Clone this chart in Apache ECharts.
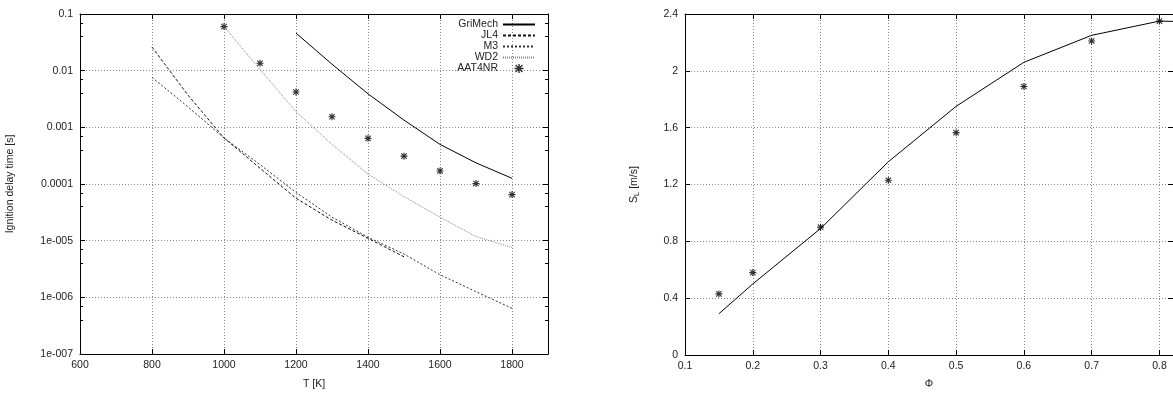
<!DOCTYPE html>
<html>
<head>
<meta charset="utf-8">
<script src="https://cdn.jsdelivr.net/npm/echarts@6/dist/echarts.min.js"></script>
<style>
  html, body { margin: 0; padding: 0; background: #fff; }
  #chart { width: 1173px; height: 395px; }
</style>
</head>
<body>
<div id="chart"></div>
<script>
// ---------- Left panel: ignition delay time vs temperature ----------
const tempGriMech = [1200, 1300, 1400, 1500, 1600, 1700, 1800];
const griMech     = [0.046, 0.013, 0.0039, 0.00134, 0.00050, 0.000236, 0.000126];

const tempJL4 = [800, 900, 1000, 1100, 1200, 1300, 1400, 1500];
const jl4     = [0.026, 0.0037, 0.00065, 0.00019, 0.000056, 0.000023, 0.000011, 0.0000052];

const tempM3 = [800, 900, 1000, 1100, 1200, 1300, 1400, 1500, 1600, 1700, 1800];
const m3     = [0.0076, 0.0023, 0.00065, 0.00022, 0.000071, 0.000026, 0.0000115, 0.0000058, 0.0000025, 0.00000126, 0.00000064];

const tempWD2 = [1000, 1100, 1200, 1300, 1400, 1500, 1600, 1700, 1800];
const wd2     = [0.06, 0.0105, 0.0019, 0.0005, 0.00015, 0.00006, 0.000026, 0.0000118, 0.0000076];

const tempAAT = [1000, 1100, 1200, 1300, 1400, 1500, 1600, 1700, 1800];
const aat4nr  = [0.060, 0.0135, 0.0042, 0.00154, 0.00064, 0.00031, 0.00017, 0.000102, 0.000065];

const lineLegendNames = ['GriMech', 'JL4', 'M3', 'WD2'];
const pointLegendName = 'AAT4NR';
const yLogTickLabels = { '-1': '0.1', '-2': '0.01', '-3': '0.001', '-4': '0.0001', '-5': '1e-005', '-6': '1e-006', '-7': '1e-007' };

// ---------- Right panel: laminar flame speed vs equivalence ratio ----------
const phiLine = [0.15, 0.2, 0.3, 0.4, 0.5, 0.6, 0.7, 0.8, 0.9];
const slLine  = [0.29, 0.50, 0.89, 1.36, 1.75, 2.06, 2.25, 2.35, 2.34];

const phiPts = [0.15, 0.2, 0.3, 0.4, 0.5, 0.6, 0.7, 0.8];
const slPts  = [0.43, 0.58, 0.90, 1.23, 1.565, 1.89, 2.21, 2.35];

// ---------- helpers ----------
const zip = (xs, ys) => xs.map((x, i) => [x, ys[i]]);
const FONT = 'Liberation Sans, Arial, sans-serif';
const TXT = '#222';
const FS = 10.5;
const STAR = 'path://M4.2,0 H5.8 V10 H4.2 Z M0,4.2 H10 V5.8 H0 Z M0.6,1.7 L1.7,0.6 L9.4,8.3 L8.3,9.4 Z M8.3,0.6 L9.4,1.7 L1.7,9.4 L0.6,8.3 Z';

const gridSplit = { show: true, lineStyle: { color: '#888', width: 1, type: [1, 2] } };
const axLine = { show: true, onZero: false, lineStyle: { color: '#000', width: 1 } };
const tickIn = { show: true, inside: true, length: 5, lineStyle: { color: '#000' } };
const lbl = (extra) => Object.assign({ color: TXT, fontFamily: FONT, fontSize: FS }, extra || {});

const legendData = lineLegendNames.map(n => ({ name: n, itemStyle: { opacity: 0 } }))
  .concat([{ name: pointLegendName }]);

const chart = echarts.init(document.getElementById('chart'), null, { renderer: 'canvas' });

const option = {
  animation: false,
  backgroundColor: '#fff',
  textStyle: { fontFamily: FONT },
  grid: [
    { left: 80, top: 14, width: 468, height: 345, containLabel: false },
    { left: 685, top: 14, width: 488.6, height: 345, containLabel: false }
  ],
  legend: {
    data: legendData,
    orient: 'vertical',
    align: 'right',
    right: 637,
    top: 19,
    padding: 0,
    itemGap: 0,
    itemWidth: 32,
    itemHeight: 9,
    textStyle: { color: TXT, fontFamily: FONT, fontSize: FS, lineHeight: 11 },
    selectedMode: false
  },
  xAxis: [
    {
      gridIndex: 0, type: 'value', position: 'bottom', min: 600, max: 1900, interval: 200,
      axisLine: axLine, axisTick: tickIn, splitLine: gridSplit,
      axisLabel: lbl({ margin: 6, showMaxLabel: false, formatter: v => (v === 1900 ? '' : String(v)) }),
      name: 'T [K]', nameLocation: 'middle', nameGap: 25,
      nameTextStyle: lbl()
    },
    {
      gridIndex: 0, type: 'value', position: 'top', min: 600, max: 1900, interval: 200,
      axisLine: axLine, axisTick: tickIn, splitLine: { show: false }, axisLabel: { show: false }
    },
    {
      gridIndex: 1, type: 'value', position: 'bottom', min: 0.1, max: 0.82, interval: 0.1,
      axisLine: axLine, axisTick: tickIn, splitLine: gridSplit,
      axisLabel: lbl({ margin: 6, showMaxLabel: false, formatter: v => (v > 0.81 ? '' : (Math.round(v * 10) / 10).toString()) }),
      name: 'Φ', nameLocation: 'middle', nameGap: 24,
      nameTextStyle: lbl()
    },
    {
      gridIndex: 1, type: 'value', position: 'top', min: 0.1, max: 0.82, interval: 0.1,
      axisLine: axLine, axisTick: tickIn, splitLine: { show: false }, axisLabel: { show: false }
    }
  ],
  yAxis: [
    {
      gridIndex: 0, type: 'log', logBase: 10, position: 'left', min: 1e-7, max: 0.1, splitNumber: 6,
      axisLine: axLine, axisTick: tickIn,
      minorTick: { show: true, splitNumber: 3, length: 3, lineStyle: { color: '#000' } },
      splitLine: gridSplit,
      axisLabel: lbl({ margin: 7, formatter: v => yLogTickLabels[String(Math.round(Math.log10(v)))] || '' }),
      name: 'Ignition delay time [s]', nameLocation: 'middle', nameGap: 64,
      nameTextStyle: lbl()
    },
    {
      gridIndex: 0, type: 'log', logBase: 10, position: 'right', min: 1e-7, max: 0.1, splitNumber: 6,
      axisLine: axLine, axisTick: tickIn,
      minorTick: { show: true, splitNumber: 3, length: 3, lineStyle: { color: '#000' } },
      splitLine: { show: false }, axisLabel: { show: false }
    },
    {
      gridIndex: 1, type: 'value', position: 'left', min: 0, max: 2.4, interval: 0.4,
      axisLine: axLine, axisTick: tickIn, splitLine: gridSplit,
      axisLabel: lbl({ margin: 7, formatter: v => (Math.round(v * 10) / 10).toString() }),
      name: '{m|S}{s|L}{m| [m/s]}', nameLocation: 'middle', nameGap: 44,
      nameTextStyle: {
        color: TXT, fontFamily: FONT, fontSize: FS,
        rich: {
          m: { color: TXT, fontFamily: FONT, fontSize: FS },
          s: { color: TXT, fontFamily: FONT, fontSize: 7.5, verticalAlign: 'bottom', padding: [6, 0, 0, 0] }
        }
      }
    },
    {
      gridIndex: 1, type: 'value', position: 'right', min: 0, max: 2.4, interval: 0.4,
      axisLine: axLine, axisTick: tickIn, splitLine: { show: false }, axisLabel: { show: false }
    }
  ],
  series: [
    {
      name: 'GriMech', type: 'line', xAxisIndex: 0, yAxisIndex: 0,
      data: zip(tempGriMech, griMech), symbol: 'none', showSymbol: false,
      lineStyle: { color: '#000', width: 1, type: 'solid' }, itemStyle: { color: '#000' }
    },
    {
      name: 'JL4', type: 'line', xAxisIndex: 0, yAxisIndex: 0,
      data: zip(tempJL4, jl4), symbol: 'none', showSymbol: false,
      lineStyle: { color: '#111', width: 1, type: [3, 2] }, itemStyle: { color: '#111' }
    },
    {
      name: 'M3', type: 'line', xAxisIndex: 0, yAxisIndex: 0,
      data: zip(tempM3, m3), symbol: 'none', showSymbol: false,
      lineStyle: { color: '#333', width: 1, type: [2, 2] }, itemStyle: { color: '#333' }
    },
    {
      name: 'WD2', type: 'line', xAxisIndex: 0, yAxisIndex: 0,
      data: zip(tempWD2, wd2), symbol: 'none', showSymbol: false,
      lineStyle: { color: '#888', width: 1, type: [1, 1] }, itemStyle: { color: '#888' }
    },
    {
      name: 'AAT4NR', type: 'scatter', xAxisIndex: 0, yAxisIndex: 0,
      data: zip(tempAAT, aat4nr), symbol: STAR, symbolSize: 7,
      itemStyle: { color: '#000' }
    },
    {
      name: 'SL', type: 'line', xAxisIndex: 2, yAxisIndex: 2,
      data: zip(phiLine, slLine), symbol: 'none', showSymbol: false, clip: true,
      lineStyle: { color: '#000', width: 1 }, itemStyle: { color: '#000' }
    },
    {
      name: 'SL exp', type: 'scatter', xAxisIndex: 2, yAxisIndex: 2,
      data: zip(phiPts, slPts), symbol: STAR, symbolSize: 7,
      itemStyle: { color: '#000' }
    }
  ]
};

chart.setOption(option);
</script>
</body>
</html>
